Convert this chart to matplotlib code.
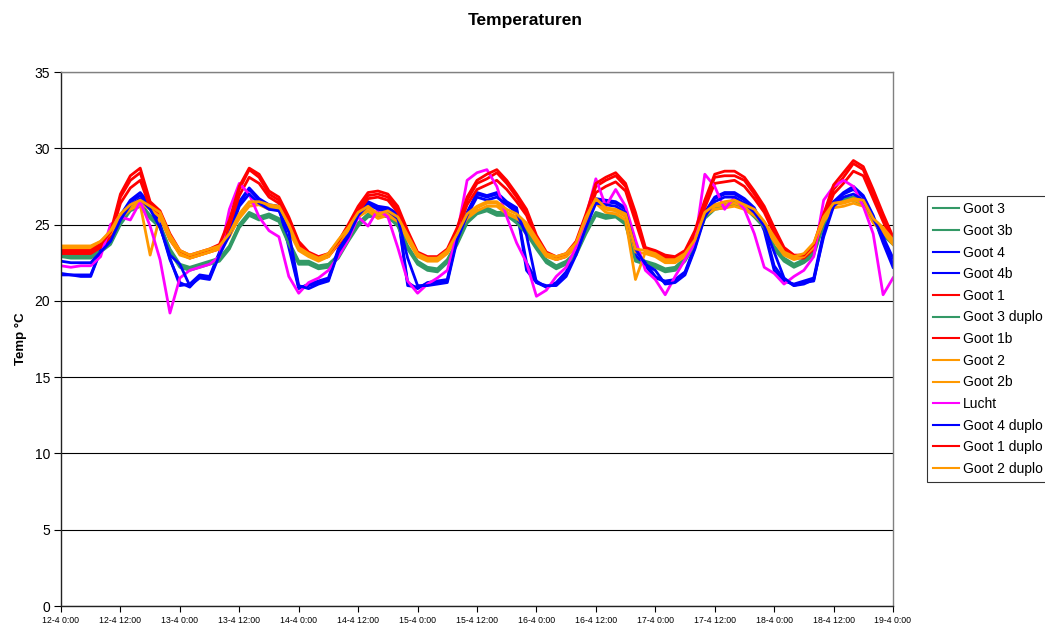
import numpy as np
import matplotlib.pyplot as plt

plt.rcParams['font.family'] = ['Liberation Sans', 'DejaVu Sans']

# hours since 12-4 0:00, one reading every 2 hours
hours = np.arange(0, 169, 2)

tick_hours = np.arange(0, 169, 12)
tick_labels = ["12-4 0:00", "12-4 12:00", "13-4 0:00", "13-4 12:00", "14-4 0:00",
               "14-4 12:00", "15-4 0:00", "15-4 12:00", "16-4 0:00", "16-4 12:00",
               "17-4 0:00", "17-4 12:00", "18-4 0:00", "18-4 12:00", "19-4 0:00"]

# ---- temperature series (°C), one row per day of 12 readings + closing value ----
goot3 = [23.0, 22.9, 22.9, 22.9, 23.3, 23.8, 25.1, 26.0, 26.3, 25.5, 24.9, 23.3,
         22.3, 22.1, 22.3, 22.5, 22.7, 23.5, 24.9, 25.7, 25.4, 25.6, 25.3, 23.8,
         22.5, 22.5, 22.2, 22.3, 22.9, 24.0, 25.0, 25.6, 25.7, 25.6, 25.0, 23.5,
         22.5, 22.1, 22.0, 22.6, 23.8, 25.2, 25.8, 26.0, 25.7, 25.7, 25.2, 24.5,
         23.5, 22.6, 22.2, 22.5, 23.1, 24.5, 25.7, 25.5, 25.6, 25.1, 22.7, 22.5,
         22.3, 22.0, 22.1, 22.7, 23.8, 25.5, 26.1, 26.2, 26.4, 26.2, 25.6, 24.9,
         23.5, 22.7, 22.3, 22.6, 23.1, 25.1, 26.4, 26.6, 26.7, 26.4, 25.3, 24.4,
         23.8]
goot3b = [23.1, 23.0, 23.0, 23.0, 23.4, 23.9, 25.2, 26.1, 26.4, 25.6, 25.0, 23.4,
          22.4, 22.2, 22.4, 22.6, 22.8, 23.6, 25.0, 25.8, 25.5, 25.7, 25.4, 23.9,
          22.6, 22.6, 22.3, 22.4, 23.0, 24.1, 25.1, 25.7, 25.8, 25.7, 25.1, 23.6,
          22.6, 22.2, 22.1, 22.7, 23.9, 25.3, 25.9, 26.1, 25.8, 25.8, 25.3, 24.6,
          23.6, 22.7, 22.3, 22.6, 23.2, 24.6, 25.8, 25.6, 25.7, 25.2, 22.8, 22.6,
          22.4, 22.1, 22.2, 22.8, 23.9, 25.6, 26.2, 26.3, 26.5, 26.3, 25.7, 25.0,
          23.6, 22.8, 22.4, 22.7, 23.2, 25.2, 26.5, 26.7, 26.8, 26.5, 25.4, 24.5,
          23.9]
goot3_duplo = [22.9, 22.8, 22.8, 22.8, 23.2, 23.7, 25.0, 25.9, 26.2, 25.4, 24.8, 23.2,
               22.2, 22.0, 22.2, 22.4, 22.6, 23.4, 24.8, 25.6, 25.3, 25.5, 25.2, 23.7,
               22.4, 22.4, 22.1, 22.2, 22.8, 23.9, 24.9, 25.5, 25.6, 25.5, 24.9, 23.4,
               22.4, 22.0, 21.9, 22.5, 23.7, 25.1, 25.7, 25.9, 25.6, 25.6, 25.1, 24.4,
               23.4, 22.5, 22.1, 22.4, 23.0, 24.4, 25.6, 25.4, 25.5, 25.0, 22.6, 22.4,
               22.2, 21.9, 22.0, 22.6, 23.7, 25.4, 26.0, 26.1, 26.3, 26.1, 25.5, 24.8,
               23.4, 22.6, 22.2, 22.5, 23.0, 25.0, 26.3, 26.5, 26.6, 26.3, 25.2, 24.3,
               23.7]

goot4 = [21.7, 21.7, 21.6, 21.6, 23.3, 24.0, 25.5, 26.5, 26.9, 26.2, 24.9, 22.7,
         21.2, 20.9, 21.6, 21.5, 23.1, 24.4, 26.4, 27.3, 26.6, 26.2, 26.1, 23.8,
         20.9, 21.0, 21.2, 21.4, 23.3, 24.3, 25.7, 26.4, 26.1, 26.0, 25.6, 21.0,
         20.9, 21.1, 21.2, 21.3, 24.2, 25.7, 27.0, 26.8, 27.0, 26.4, 26.0, 22.5,
         21.3, 20.9, 21.1, 21.8, 23.1, 24.9, 26.6, 26.5, 26.4, 26.0, 23.3, 22.5,
         21.6, 21.2, 21.3, 21.8, 23.5, 25.7, 26.7, 27.0, 27.0, 26.6, 26.0, 24.8,
         22.3, 21.4, 21.0, 21.2, 21.3, 24.4, 26.4, 27.0, 27.3, 26.8, 25.5, 24.0,
         22.4]
goot4b = [21.8, 21.7, 21.7, 21.7, 23.3, 24.1, 25.6, 26.6, 27.1, 26.3, 25.0, 22.8,
          21.0, 21.1, 21.7, 21.6, 23.2, 24.5, 26.5, 27.4, 26.7, 26.3, 26.2, 23.5,
          20.8, 21.1, 21.3, 21.5, 23.4, 24.4, 25.8, 26.5, 26.2, 26.1, 25.7, 21.2,
          20.8, 21.2, 21.3, 21.4, 24.3, 25.8, 27.1, 26.9, 27.1, 26.5, 26.1, 22.0,
          21.2, 20.9, 21.2, 21.9, 23.2, 25.0, 26.7, 26.6, 26.5, 26.1, 23.0, 22.3,
          21.5, 21.3, 21.4, 21.9, 23.6, 25.8, 26.8, 27.1, 27.1, 26.7, 26.1, 24.6,
          22.0, 21.3, 21.1, 21.3, 21.5, 24.5, 26.5, 27.1, 27.5, 26.9, 25.6, 23.8,
          22.2]
goot4_duplo = [22.6, 22.5, 22.5, 22.5, 23.2, 23.9, 25.3, 26.3, 26.7, 26.0, 24.8, 23.0,
               22.4, 21.0, 21.5, 21.4, 23.0, 24.3, 26.2, 27.0, 26.4, 26.0, 25.9, 24.5,
               21.0, 20.8, 21.1, 21.3, 23.2, 24.2, 25.6, 26.3, 26.0, 25.9, 25.4, 22.8,
               21.0, 21.0, 21.1, 21.2, 24.0, 25.6, 26.8, 26.6, 26.8, 26.3, 25.8, 24.3,
               21.2, 21.0, 21.0, 21.6, 23.0, 24.8, 26.4, 26.3, 26.2, 25.8, 23.4, 22.4,
               22.0, 21.1, 21.2, 21.7, 23.4, 25.5, 26.5, 26.8, 26.8, 26.4, 25.8, 24.9,
               23.2, 21.5, 21.0, 21.1, 21.4, 24.2, 26.2, 26.8, 27.0, 26.6, 25.4, 24.2,
               22.8]

goot1 = [23.2, 23.2, 23.2, 23.2, 23.6, 24.3, 26.8, 27.9, 28.4, 26.3, 25.7, 24.2,
         23.2, 22.9, 23.1, 23.3, 23.5, 25.1, 27.3, 28.6, 28.1, 27.0, 26.6, 25.3,
         23.8, 23.1, 22.8, 23.0, 23.8, 24.8, 26.0, 26.9, 27.0, 26.8, 26.0, 24.4,
         23.1, 22.8, 22.8, 23.3, 24.6, 26.6, 27.7, 28.0, 28.4, 27.7, 26.8, 25.8,
         24.1, 23.1, 22.8, 23.0, 23.7, 25.5, 27.5, 27.9, 28.2, 27.5, 25.5, 23.3,
         23.2, 22.9, 22.8, 23.2, 24.4, 26.4, 28.1, 28.2, 28.2, 27.9, 27.0, 26.0,
         24.6, 23.4, 22.9, 22.9, 23.5, 25.5, 27.3, 28.1, 29.0, 28.6, 27.0, 25.5,
         24.0]
goot1b = [23.1, 23.1, 23.1, 23.1, 23.5, 24.2, 26.4, 27.4, 27.9, 26.1, 25.5, 24.0,
          23.1, 22.8, 23.0, 23.2, 23.4, 24.9, 26.9, 28.1, 27.7, 26.8, 26.4, 25.1,
          23.6, 23.0, 22.7, 22.9, 23.7, 24.7, 25.8, 26.7, 26.8, 26.6, 25.8, 24.2,
          23.0, 22.7, 22.7, 23.2, 24.5, 26.3, 27.3, 27.6, 27.9, 27.3, 26.5, 25.6,
          23.9, 23.0, 22.7, 22.9, 23.6, 25.3, 27.1, 27.5, 27.8, 27.2, 25.2, 23.2,
          23.1, 22.8, 22.7, 23.1, 24.3, 26.1, 27.7, 27.8, 27.9, 27.5, 26.7, 25.8,
          24.4, 23.3, 22.8, 22.8, 23.4, 25.3, 27.0, 27.7, 28.5, 28.2, 26.7, 25.2,
          23.8]
goot1_duplo = [23.3, 23.3, 23.3, 23.3, 23.7, 24.5, 27.0, 28.2, 28.7, 26.5, 25.9, 24.4,
               23.3, 23.0, 23.2, 23.4, 23.7, 25.3, 27.5, 28.7, 28.3, 27.2, 26.8, 25.5,
               23.9, 23.2, 22.9, 23.1, 23.9, 25.0, 26.2, 27.1, 27.2, 27.0, 26.2, 24.6,
               23.2, 22.9, 22.9, 23.4, 24.8, 26.8, 27.9, 28.3, 28.6, 27.9, 27.0, 26.0,
               24.3, 23.2, 22.9, 23.1, 23.9, 25.7, 27.7, 28.1, 28.4, 27.7, 25.8, 23.5,
               23.3, 23.0, 22.9, 23.3, 24.6, 26.6, 28.3, 28.5, 28.5, 28.1, 27.2, 26.2,
               24.8, 23.5, 23.0, 23.0, 23.7, 25.7, 27.6, 28.4, 29.2, 28.8, 27.3, 25.7,
               24.2]

goot2 = [23.4, 23.4, 23.4, 23.4, 23.8, 24.4, 25.5, 26.2, 26.4, 26.0, 25.5, 24.0,
         23.1, 22.8, 23.0, 23.2, 23.4, 24.2, 25.5, 26.4, 26.4, 26.2, 26.1, 24.6,
         23.3, 22.9, 22.6, 22.9, 23.8, 24.6, 25.6, 26.1, 25.6, 25.7, 25.3, 24.0,
         22.9, 22.6, 22.6, 23.1, 24.2, 25.5, 26.1, 26.4, 26.4, 25.8, 25.5, 24.8,
         23.8, 22.9, 22.7, 22.9, 23.5, 25.3, 26.6, 26.0, 25.9, 25.5, 23.2, 23.1,
         22.9, 22.5, 22.5, 22.9, 23.8, 25.7, 26.2, 26.3, 26.4, 26.2, 25.8, 24.9,
         23.9, 23.0, 22.7, 22.9, 23.5, 25.3, 26.3, 26.4, 26.6, 26.4, 25.1, 24.5,
         23.7]
goot2b = [23.5, 23.5, 23.5, 23.5, 23.9, 24.5, 25.4, 26.0, 26.3, 23.0, 25.6, 24.1,
          23.0, 22.8, 23.0, 23.2, 23.5, 24.3, 25.4, 26.2, 26.3, 26.0, 26.0, 24.8,
          23.4, 23.0, 22.7, 22.9, 23.9, 24.8, 25.5, 25.9, 25.4, 25.6, 25.2, 24.2,
          23.0, 22.7, 22.7, 23.2, 24.4, 25.4, 25.9, 26.2, 26.2, 25.7, 25.4, 24.9,
          23.9, 23.0, 22.8, 23.0, 23.6, 25.2, 26.4, 25.8, 25.7, 25.3, 21.4, 23.2,
          23.0, 22.6, 22.6, 23.0, 23.9, 25.6, 26.0, 26.1, 26.2, 26.0, 25.6, 25.0,
          24.0, 23.1, 22.8, 23.0, 23.7, 25.2, 26.1, 26.2, 26.4, 26.2, 25.2, 24.6,
          23.9]
goot2_duplo = [23.6, 23.6, 23.6, 23.6, 23.9, 24.6, 25.7, 26.3, 26.6, 26.2, 25.8, 24.3,
               23.3, 23.0, 23.2, 23.4, 23.6, 24.4, 25.7, 26.5, 26.5, 26.3, 26.2, 25.0,
               23.5, 23.1, 22.8, 23.1, 24.0, 24.8, 25.8, 26.2, 25.7, 25.9, 25.5, 24.3,
               23.1, 22.8, 22.8, 23.3, 24.4, 25.7, 26.2, 26.5, 26.5, 26.0, 25.7, 25.1,
               24.1, 23.1, 22.9, 23.1, 23.8, 25.5, 26.7, 26.1, 26.0, 25.7, 23.4, 23.3,
               23.1, 22.7, 22.7, 23.1, 24.0, 25.8, 26.3, 26.5, 26.6, 26.3, 26.0, 25.2,
               24.2, 23.2, 22.9, 23.1, 23.8, 25.5, 26.4, 26.5, 26.7, 26.6, 25.4, 24.8,
               24.0]

lucht = [22.3, 22.2, 22.3, 22.3, 22.9, 25.0, 25.5, 25.3, 26.5, 24.9, 22.7, 19.2,
         21.5, 22.0, 22.2, 22.4, 22.9, 26.0, 27.7, 27.0, 25.5, 24.6, 24.2, 21.6,
         20.5, 21.2, 21.5, 22.0, 22.9, 24.0, 25.5, 24.9, 26.0, 25.5, 23.5, 21.3,
         20.5, 21.1, 21.5, 22.0, 24.4, 27.9, 28.4, 28.6, 27.5, 25.5, 23.8, 22.5,
         20.3, 20.7, 21.6, 22.2, 23.5, 25.5, 28.0, 26.2, 27.3, 26.2, 24.0, 22.0,
         21.4, 20.4, 21.6, 22.7, 23.8, 28.3, 27.5, 26.0, 26.8, 26.0, 24.4, 22.2,
         21.8, 21.1, 21.6, 22.0, 22.9, 26.6, 27.5, 27.9, 27.5, 26.2, 24.4, 20.4,
         21.5]

GREEN = "#339966"
BLUE = "#0000FF"
RED = "#FF0000"
ORANGE = "#FF9900"
MAGENTA = "#FF00FF"

series = [
    ("Goot 3", goot3, GREEN),
    ("Goot 3b", goot3b, GREEN),
    ("Goot 4", goot4, BLUE),
    ("Goot 4b", goot4b, BLUE),
    ("Goot 1", goot1, RED),
    ("Goot 3 duplo", goot3_duplo, GREEN),
    ("Goot 1b", goot1b, RED),
    ("Goot 2", goot2, ORANGE),
    ("Goot 2b", goot2b, ORANGE),
    ("Lucht", lucht, MAGENTA),
    ("Goot 4 duplo", goot4_duplo, BLUE),
    ("Goot 1 duplo", goot1_duplo, RED),
    ("Goot 2 duplo", goot2_duplo, ORANGE),
]

fig = plt.figure(figsize=(10.45, 6.25), dpi=100)
ax = fig.add_axes([61 / 1045, 1 - 606 / 625, (893 - 61) / 1045, (606 - 72) / 625])

for label, values, color in series:
    ax.plot(hours, values, color=color, lw=2.0, label=label, solid_joinstyle='round')

ax.set_xlim(0, 168)
ax.set_ylim(0, 35)
ax.set_yticks(range(0, 36, 5))
ax.set_xticks(tick_hours)
ax.set_xticklabels(tick_labels, fontsize=6.3)
ax.tick_params(axis='y', labelsize=10, direction='out', length=5, width=0.8, pad=3)
ax.tick_params(axis='x', direction='out', length=4, width=0.8, pad=3)

ax.yaxis.grid(True, color='black', lw=0.8)
ax.set_axisbelow(True)
for side in ('left', 'bottom'):
    ax.spines[side].set_color('#222222')
    ax.spines[side].set_linewidth(1.0)
for side in ('top', 'right'):
    ax.spines[side].set_color('#808080')
    ax.spines[side].set_linewidth(1.0)

ax.set_ylabel("Temp °C", fontsize=9.5, fontweight='bold', labelpad=5.5)
fig.text(0.503, 1 - 20 / 625, "Temperaturen", fontsize=12.5, fontweight='bold',
         ha='center', va='center')

leg = fig.legend(loc='upper left', bbox_to_anchor=(927 / 1045, 1 - 196 / 625),
                 fontsize=10, frameon=True, fancybox=False, borderpad=0.45,
                 labelspacing=0.55, handlelength=1.85, handletextpad=0.3,
                 borderaxespad=0)
leg.get_frame().set_edgecolor('black')
leg.get_frame().set_linewidth(0.8)
for line in leg.get_lines():
    line.set_linewidth(1.5)

fig.savefig("out.png", dpi=100)
